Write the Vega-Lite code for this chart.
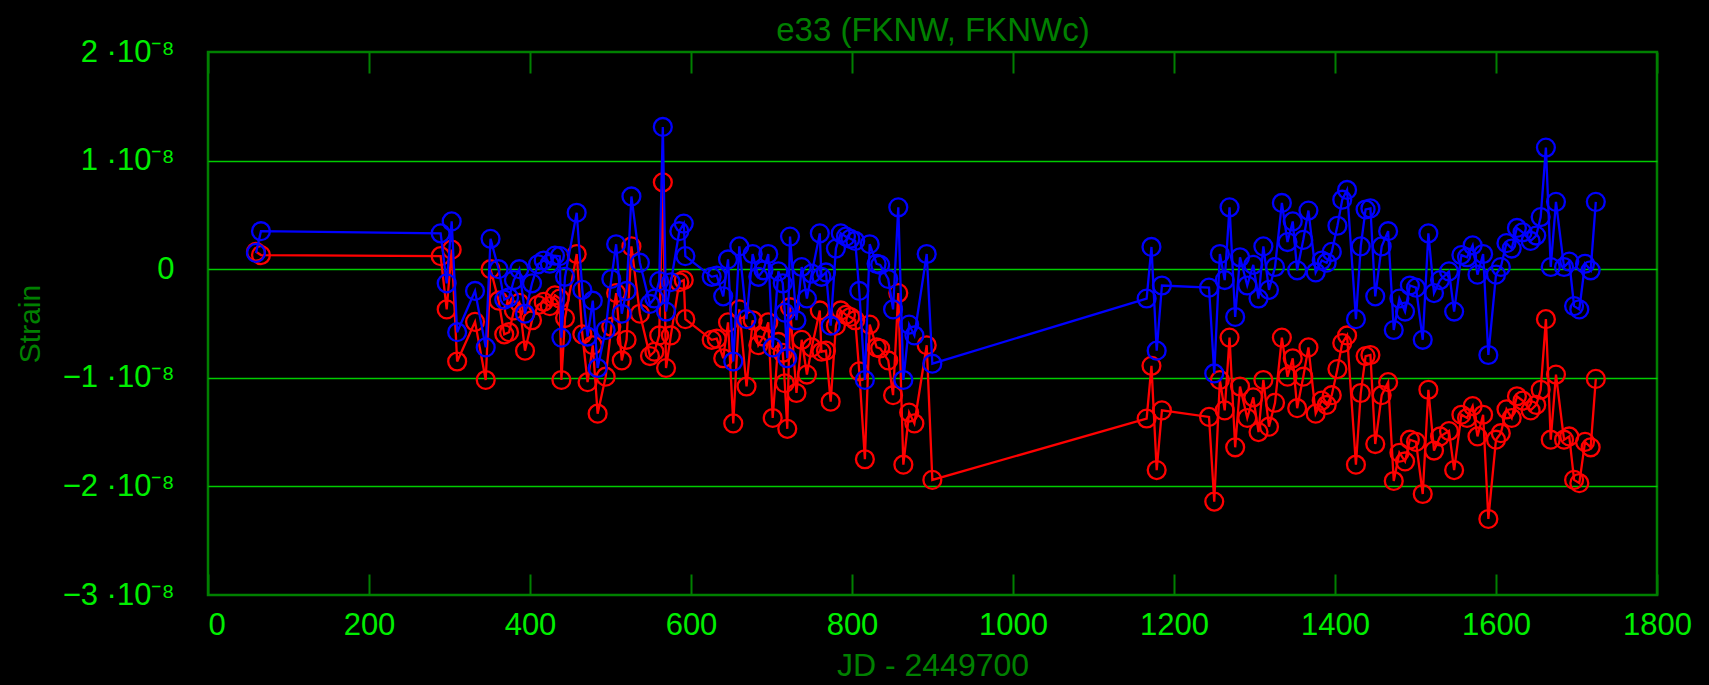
{
  "$schema": "https://vega.github.io/schema/vega-lite/v6.json",
  "width": 1449,
  "height": 543,
  "autosize": "none",
  "padding": {"left": 208, "top": 52, "right": 52, "bottom": 90},
  "background": "black",
  "config": {"view": {"stroke": "#008000", "strokeWidth": 2.5}},
  "data": {"values": [
    {"jd": 59.6, "FKNW": 0.15e-8, "FKNWc": 0.16e-8},
    {"jd": 65.8, "FKNW": 0.35e-8, "FKNWc": 0.13e-8},
    {"jd": 289, "FKNW": 0.33e-8, "FKNWc": 0.12e-8},
    {"jd": 296.5, "FKNW": -0.13e-8, "FKNWc": -0.37e-8},
    {"jd": 302.7, "FKNW": 0.44e-8, "FKNWc": 0.18e-8},
    {"jd": 309.5, "FKNW": -0.58e-8, "FKNWc": -0.85e-8},
    {"jd": 331.7, "FKNW": -0.20e-8, "FKNWc": -0.485e-8},
    {"jd": 345, "FKNW": -0.72e-8, "FKNWc": -1.02e-8},
    {"jd": 351, "FKNW": 0.28e-8, "FKNWc": 0.0},
    {"jd": 361, "FKNW": 0.0, "FKNWc": -0.29e-8},
    {"jd": 368, "FKNW": -0.28e-8, "FKNWc": -0.60e-8},
    {"jd": 374, "FKNW": -0.26e-8, "FKNWc": -0.58e-8},
    {"jd": 380, "FKNW": -0.10e-8, "FKNWc": -0.38e-8},
    {"jd": 386.7, "FKNW": 0.0, "FKNWc": -0.31e-8},
    {"jd": 393.8, "FKNW": -0.41e-8, "FKNWc": -0.75e-8},
    {"jd": 402.5, "FKNW": -0.13e-8, "FKNWc": -0.47e-8},
    {"jd": 410, "FKNW": 0.045e-8, "FKNWc": -0.33e-8},
    {"jd": 417, "FKNW": 0.08e-8, "FKNWc": -0.30e-8},
    {"jd": 424.5, "FKNW": 0.05e-8, "FKNWc": -0.34e-8},
    {"jd": 431, "FKNW": 0.125e-8, "FKNWc": -0.24e-8},
    {"jd": 437, "FKNW": 0.12e-8, "FKNWc": -0.27e-8},
    {"jd": 439, "FKNW": -0.63e-8, "FKNWc": -1.02e-8},
    {"jd": 443.5, "FKNW": -0.07e-8, "FKNWc": -0.45e-8},
    {"jd": 458, "FKNW": 0.52e-8, "FKNWc": 0.14e-8},
    {"jd": 465, "FKNW": -0.19e-8, "FKNWc": -0.60e-8},
    {"jd": 471.5, "FKNW": -0.62e-8, "FKNWc": -1.04e-8},
    {"jd": 478, "FKNW": -0.29e-8, "FKNWc": -0.70e-8},
    {"jd": 484, "FKNW": -0.91e-8, "FKNWc": -1.33e-8},
    {"jd": 494, "FKNW": -0.56e-8, "FKNWc": -0.99e-8},
    {"jd": 501, "FKNW": -0.09e-8, "FKNWc": -0.53e-8},
    {"jd": 507, "FKNW": 0.23e-8, "FKNWc": -0.22e-8},
    {"jd": 514, "FKNW": -0.41e-8, "FKNWc": -0.84e-8},
    {"jd": 520, "FKNW": -0.20e-8, "FKNWc": -0.65e-8},
    {"jd": 526, "FKNW": 0.67e-8, "FKNWc": 0.21e-8},
    {"jd": 536.5, "FKNW": 0.06e-8, "FKNWc": -0.41e-8},
    {"jd": 549, "FKNW": -0.32e-8, "FKNWc": -0.80e-8},
    {"jd": 554.5, "FKNW": -0.27e-8, "FKNWc": -0.76e-8},
    {"jd": 560.5, "FKNW": -0.11e-8, "FKNWc": -0.61e-8},
    {"jd": 565, "FKNW": 1.31e-8, "FKNWc": 0.80e-8},
    {"jd": 569, "FKNW": -0.39e-8, "FKNWc": -0.91e-8},
    {"jd": 575, "FKNW": -0.12e-8, "FKNWc": -0.61e-8},
    {"jd": 585.5, "FKNW": 0.35e-8, "FKNWc": -0.12e-8},
    {"jd": 591, "FKNW": 0.42e-8, "FKNWc": -0.10e-8},
    {"jd": 593, "FKNW": 0.12e-8, "FKNWc": -0.46e-8},
    {"jd": 625.7, "FKNW": -0.07e-8, "FKNWc": -0.65e-8},
    {"jd": 632, "FKNW": -0.06e-8, "FKNWc": -0.64e-8},
    {"jd": 640, "FKNW": -0.25e-8, "FKNWc": -0.82e-8},
    {"jd": 646, "FKNW": 0.09e-8, "FKNWc": -0.49e-8},
    {"jd": 652.5, "FKNW": -0.85e-8, "FKNWc": -1.42e-8},
    {"jd": 660, "FKNW": 0.21e-8, "FKNWc": -0.37e-8},
    {"jd": 669, "FKNW": -0.46e-8, "FKNWc": -1.08e-8},
    {"jd": 676.6, "FKNW": 0.14e-8, "FKNWc": -0.47e-8},
    {"jd": 683.6, "FKNW": -0.07e-8, "FKNWc": -0.70e-8},
    {"jd": 690, "FKNW": -0.01e-8, "FKNWc": -0.62e-8},
    {"jd": 696, "FKNW": 0.14e-8, "FKNWc": -0.49e-8},
    {"jd": 701.5, "FKNW": -0.72e-8, "FKNWc": -1.37e-8},
    {"jd": 708.5, "FKNW": -0.02e-8, "FKNWc": -0.67e-8},
    {"jd": 714, "FKNW": -0.13e-8, "FKNWc": -0.77e-8},
    {"jd": 716.5, "FKNW": -0.40e-8, "FKNWc": -1.05e-8},
    {"jd": 719.6, "FKNW": -0.82e-8, "FKNWc": -1.47e-8},
    {"jd": 723, "FKNW": 0.30e-8, "FKNWc": -0.35e-8},
    {"jd": 731, "FKNW": -0.47e-8, "FKNWc": -1.14e-8},
    {"jd": 737.5, "FKNW": 0.02e-8, "FKNWc": -0.65e-8},
    {"jd": 744, "FKNW": -0.27e-8, "FKNWc": -0.97e-8},
    {"jd": 750, "FKNW": -0.04e-8, "FKNWc": -0.72e-8},
    {"jd": 760, "FKNW": 0.33e-8, "FKNWc": -0.38e-8},
    {"jd": 762, "FKNW": -0.07e-8, "FKNWc": -0.76e-8},
    {"jd": 767.7, "FKNW": -0.03e-8, "FKNWc": -0.75e-8},
    {"jd": 773.5, "FKNW": -0.52e-8, "FKNWc": -1.22e-8},
    {"jd": 780, "FKNW": 0.19e-8, "FKNWc": -0.52e-8},
    {"jd": 786, "FKNW": 0.33e-8, "FKNWc": -0.38e-8},
    {"jd": 792.5, "FKNW": 0.30e-8, "FKNWc": -0.42e-8},
    {"jd": 798, "FKNW": 0.28e-8, "FKNWc": -0.44e-8},
    {"jd": 804, "FKNW": 0.26e-8, "FKNWc": -0.47e-8},
    {"jd": 809, "FKNW": -0.20e-8, "FKNWc": -0.94e-8},
    {"jd": 816, "FKNW": -1.02e-8, "FKNWc": -1.75e-8},
    {"jd": 822, "FKNW": 0.23e-8, "FKNWc": -0.51e-8},
    {"jd": 830.6, "FKNW": 0.05e-8, "FKNWc": -0.72e-8},
    {"jd": 835, "FKNW": 0.04e-8, "FKNWc": -0.73e-8},
    {"jd": 845, "FKNW": -0.09e-8, "FKNWc": -0.84e-8},
    {"jd": 851, "FKNW": -0.37e-8, "FKNWc": -1.16e-8},
    {"jd": 857.5, "FKNW": 0.57e-8, "FKNWc": -0.22e-8},
    {"jd": 863.8, "FKNW": -1.02e-8, "FKNWc": -1.80e-8},
    {"jd": 871, "FKNW": -0.51e-8, "FKNWc": -1.32e-8},
    {"jd": 877.5, "FKNW": -0.61e-8, "FKNWc": -1.42e-8},
    {"jd": 892.8, "FKNW": 0.14e-8, "FKNWc": -0.70e-8},
    {"jd": 899.8, "FKNW": -0.87e-8, "FKNWc": -1.94e-8},
    {"jd": 1166, "FKNW": -0.27e-8, "FKNWc": -1.375e-8},
    {"jd": 1172, "FKNW": 0.205e-8, "FKNWc": -0.89e-8},
    {"jd": 1178.5, "FKNW": -0.75e-8, "FKNWc": -1.85e-8},
    {"jd": 1185, "FKNW": -0.15e-8, "FKNWc": -1.30e-8},
    {"jd": 1243.5, "FKNW": -0.17e-8, "FKNWc": -1.36e-8},
    {"jd": 1250, "FKNW": -0.96e-8, "FKNWc": -2.14e-8},
    {"jd": 1257, "FKNW": 0.14e-8, "FKNWc": -1.02e-8},
    {"jd": 1263, "FKNW": -0.10e-8, "FKNWc": -1.30e-8},
    {"jd": 1269, "FKNW": 0.57e-8, "FKNWc": -0.63e-8},
    {"jd": 1276, "FKNW": -0.44e-8, "FKNWc": -1.64e-8},
    {"jd": 1282, "FKNW": 0.11e-8, "FKNWc": -1.08e-8},
    {"jd": 1291, "FKNW": -0.15e-8, "FKNWc": -1.37e-8},
    {"jd": 1298.5, "FKNW": 0.04e-8, "FKNWc": -1.18e-8},
    {"jd": 1305, "FKNW": -0.27e-8, "FKNWc": -1.50e-8},
    {"jd": 1311, "FKNW": 0.21e-8, "FKNWc": -1.02e-8},
    {"jd": 1318, "FKNW": -0.19e-8, "FKNWc": -1.45e-8},
    {"jd": 1325.5, "FKNW": 0.02e-8, "FKNWc": -1.23e-8},
    {"jd": 1334, "FKNW": 0.61e-8, "FKNWc": -0.63e-8},
    {"jd": 1341, "FKNW": 0.25e-8, "FKNWc": -0.99e-8},
    {"jd": 1347.5, "FKNW": 0.44e-8, "FKNWc": -0.82e-8},
    {"jd": 1353, "FKNW": -0.01e-8, "FKNWc": -1.28e-8},
    {"jd": 1360.6, "FKNW": 0.27e-8, "FKNWc": -0.99e-8},
    {"jd": 1367, "FKNW": 0.54e-8, "FKNWc": -0.72e-8},
    {"jd": 1376, "FKNW": -0.03e-8, "FKNWc": -1.33e-8},
    {"jd": 1383.5, "FKNW": 0.08e-8, "FKNWc": -1.21e-8},
    {"jd": 1389.7, "FKNW": 0.06e-8, "FKNWc": -1.25e-8},
    {"jd": 1396, "FKNW": 0.16e-8, "FKNWc": -1.16e-8},
    {"jd": 1403, "FKNW": 0.40e-8, "FKNWc": -0.92e-8},
    {"jd": 1409, "FKNW": 0.64e-8, "FKNWc": -0.68e-8},
    {"jd": 1415, "FKNW": 0.73e-8, "FKNWc": -0.61e-8},
    {"jd": 1426, "FKNW": -0.46e-8, "FKNWc": -1.80e-8},
    {"jd": 1432, "FKNW": 0.21e-8, "FKNWc": -1.14e-8},
    {"jd": 1438, "FKNW": 0.55e-8, "FKNWc": -0.80e-8},
    {"jd": 1444, "FKNW": 0.56e-8, "FKNWc": -0.79e-8},
    {"jd": 1450, "FKNW": -0.25e-8, "FKNWc": -1.61e-8},
    {"jd": 1458, "FKNW": 0.21e-8, "FKNWc": -1.16e-8},
    {"jd": 1466, "FKNW": 0.35e-8, "FKNWc": -1.04e-8},
    {"jd": 1473, "FKNW": -0.56e-8, "FKNWc": -1.95e-8},
    {"jd": 1480, "FKNW": -0.27e-8, "FKNWc": -1.69e-8},
    {"jd": 1487, "FKNW": -0.39e-8, "FKNWc": -1.77e-8},
    {"jd": 1493, "FKNW": -0.15e-8, "FKNWc": -1.57e-8},
    {"jd": 1500.6, "FKNW": -0.17e-8, "FKNWc": -1.59e-8},
    {"jd": 1509, "FKNW": -0.65e-8, "FKNWc": -2.07e-8},
    {"jd": 1516, "FKNW": 0.33e-8, "FKNWc": -1.11e-8},
    {"jd": 1523, "FKNW": -0.22e-8, "FKNWc": -1.67e-8},
    {"jd": 1530.5, "FKNW": -0.10e-8, "FKNWc": -1.54e-8},
    {"jd": 1541.6, "FKNW": -0.02e-8, "FKNWc": -1.49e-8},
    {"jd": 1548, "FKNW": -0.39e-8, "FKNWc": -1.85e-8},
    {"jd": 1557, "FKNW": 0.13e-8, "FKNWc": -1.34e-8},
    {"jd": 1564, "FKNW": 0.11e-8, "FKNWc": -1.37e-8},
    {"jd": 1571, "FKNW": 0.22e-8, "FKNWc": -1.26e-8},
    {"jd": 1577, "FKNW": -0.05e-8, "FKNWc": -1.54e-8},
    {"jd": 1584, "FKNW": 0.14e-8, "FKNWc": -1.34e-8},
    {"jd": 1590.5, "FKNW": -0.79e-8, "FKNWc": -2.30e-8},
    {"jd": 1600, "FKNW": -0.05e-8, "FKNWc": -1.57e-8},
    {"jd": 1606, "FKNW": 0.02e-8, "FKNWc": -1.51e-8},
    {"jd": 1613, "FKNW": 0.24e-8, "FKNWc": -1.29e-8},
    {"jd": 1619.5, "FKNW": 0.19e-8, "FKNWc": -1.37e-8},
    {"jd": 1626, "FKNW": 0.38e-8, "FKNWc": -1.17e-8},
    {"jd": 1633, "FKNW": 0.34e-8, "FKNWc": -1.21e-8},
    {"jd": 1643, "FKNW": 0.26e-8, "FKNWc": -1.30e-8},
    {"jd": 1650, "FKNW": 0.31e-8, "FKNWc": -1.25e-8},
    {"jd": 1655.5, "FKNW": 0.48e-8, "FKNWc": -1.11e-8},
    {"jd": 1662, "FKNW": 1.12e-8, "FKNWc": -0.46e-8},
    {"jd": 1668, "FKNW": 0.02e-8, "FKNWc": -1.57e-8},
    {"jd": 1674.5, "FKNW": 0.62e-8, "FKNWc": -0.97e-8},
    {"jd": 1684.5, "FKNW": 0.02e-8, "FKNWc": -1.57e-8},
    {"jd": 1691, "FKNW": 0.07e-8, "FKNWc": -1.54e-8},
    {"jd": 1697, "FKNW": -0.34e-8, "FKNWc": -1.94e-8},
    {"jd": 1703.5, "FKNW": -0.37e-8, "FKNWc": -1.97e-8},
    {"jd": 1710.6, "FKNW": 0.05e-8, "FKNWc": -1.59e-8},
    {"jd": 1717.6, "FKNW": -0.01e-8, "FKNWc": -1.64e-8},
    {"jd": 1724, "FKNW": 0.62e-8, "FKNWc": -1.01e-8}
  ]},
  "transform": [{"fold": ["FKNWc", "FKNW"], "as": ["series", "strain"]}],
  "encoding": {
    "y": {
      "field": "strain", "type": "quantitative",
      "scale": {"domain": [-3e-8, 2e-8], "nice": false, "zero": false},
      "axis": {
        "values": [-3e-8, -2e-8, -1e-8, 0, 1e-8, 2e-8],
        "grid": true, "gridColor": "#00cc00", "gridWidth": 1.4,
        "gridOpacity": {"condition": {"test": "datum.value > 1.5e-8 || datum.value < -2.5e-8", "value": 0}, "value": 1},
        "ticks": false, "domain": false,
        "labelExpr": "datum.value == 0 ? '0' : (datum.value < 0 ? '−' : '') + format(abs(round(datum.value*1e8)), 'd') + ' ·10⁻⁸'",
        "labelColor": "#00ee00", "labelFont": "Liberation Sans", "labelFontSize": 31, "labelPadding": 34, "labelFlush": false,
        "title": "Strain", "titleColor": "#008000", "titleFont": "Liberation Sans", "titleFontSize": 30, "titleFontWeight": "normal",
        "titleX": -178, "titleY": 271.5, "titleAngle": -90, "titleBaseline": "middle", "titleAlign": "center"
      }
    },
    "color": {"field": "series", "type": "nominal", "scale": {"domain": ["FKNW", "FKNWc"], "range": ["#0000ff", "#ff0000"]}, "legend": null}
  },
  "resolve": {"axis": {"x": "independent"}},
  "layer": [
    {
      "transform": [{"filter": "datum.series === 'FKNWc'"}],
      "mark": {"type": "line", "strokeWidth": 2.3},
      "encoding": {
        "x": {
          "field": "jd", "type": "quantitative",
          "scale": {"domain": [0, 1800], "nice": false, "zero": false},
          "axis": {
            "values": [0, 200, 400, 600, 800, 1000, 1200, 1400, 1600, 1800],
            "format": "d",
            "grid": false, "domain": false,
            "tickSize": -21, "tickColor": "#008000", "tickWidth": 2,
            "labelColor": "#00ee00", "labelFont": "Liberation Sans", "labelFontSize": 31, "labelPadding": 36, "labelFlush": false,
            "labelAlign": {"condition": {"test": "datum.value == 0", "value": "left"}, "value": "center"},
            "title": "JD - 2449700", "titleColor": "#008000", "titleFont": "Liberation Sans", "titleFontSize": 32, "titleFontWeight": "normal",
            "titleX": 724.5, "titleY": 80, "titleBaseline": "alphabetic", "titleAlign": "center"
          }
        }
      }
    },
    {
      "transform": [{"filter": "datum.series === 'FKNWc'"}],
      "mark": {"type": "point", "shape": "circle", "filled": false, "size": 320, "strokeWidth": 2.3, "opacity": 1},
      "encoding": {"x": {"field": "jd", "type": "quantitative", "scale": {"domain": [0, 1800], "nice": false, "zero": false}, "axis": null}}
    },
    {
      "transform": [{"filter": "datum.series === 'FKNW'"}],
      "mark": {"type": "line", "strokeWidth": 2.3},
      "encoding": {"x": {"field": "jd", "type": "quantitative", "scale": {"domain": [0, 1800], "nice": false, "zero": false}, "axis": null}}
    },
    {
      "transform": [{"filter": "datum.series === 'FKNW'"}],
      "mark": {"type": "point", "shape": "circle", "filled": false, "size": 320, "strokeWidth": 2.3, "opacity": 1},
      "encoding": {
        "x": {
          "field": "jd", "type": "quantitative",
          "scale": {"domain": [0, 1800], "nice": false, "zero": false},
          "axis": {
            "orient": "top",
            "values": [0, 200, 400, 600, 800, 1000, 1200, 1400, 1600, 1800],
            "grid": false, "domain": false, "labels": false,
            "tickSize": -21, "tickColor": "#008000", "tickWidth": 2,
            "title": "e33 (FKNW, FKNWc)", "titleColor": "#008000", "titleFont": "Liberation Sans", "titleFontSize": 33, "titleFontWeight": "normal",
            "titleX": 724.5, "titleY": -12, "titleBaseline": "alphabetic", "titleAlign": "center"
          }
        }
      }
    }
  ]
}
